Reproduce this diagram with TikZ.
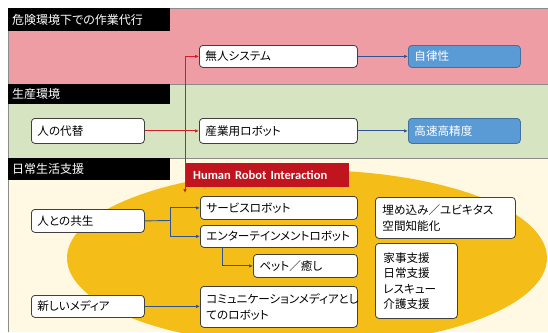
\documentclass[tikz,border=0pt]{standalone}
\usepackage{fontspec}
\setmainfont{Noto Sans CJK JP}[RawFeature=+palt]
\newfontfamily\hrifont{Carlito}
\usetikzlibrary{arrows.meta}
\definecolor{pinkband}{HTML}{EF9DA5}
\definecolor{greenband}{HTML}{D7E4C2}
\definecolor{creamband}{HTML}{FFF9E3}
\definecolor{ellcol}{HTML}{F5BD18}
\definecolor{boxblue}{HTML}{5B9BD5}
\definecolor{boxborder}{HTML}{41719C}
\definecolor{hrired}{HTML}{C0141E}
\definecolor{arrred}{HTML}{D01E28}
\definecolor{arrblue}{HTML}{2F5496}
\begin{document}
\begin{tikzpicture}[x=1pt,y=-1pt,
  font=\fontsize{11.6}{15.5}\selectfont,
  box/.style={draw=black!75, fill=white, rounded corners=3.5pt, line width=0.8pt,
    anchor=north west, inner xsep=6pt, inner ysep=0pt, align=left},
  bluebox/.style={box, fill=boxblue, draw=boxborder, text=white},
  hdr/.style={fill=black, text=white, anchor=north west, text width=154pt,
    inner xsep=4pt, inner ysep=0pt, align=left, font=\fontsize{12}{14}\selectfont},
  band/.style={draw=black!45, line width=0.6pt},
  redarr/.style={draw=arrred, line width=1pt, -{Latex[length=4pt,width=3.5pt]}},
  redline/.style={draw=arrred, line width=1pt},
  bluearr/.style={draw=arrblue, line width=0.9pt, -{Latex[length=4pt,width=3.5pt]}},
  blueline/.style={draw=arrblue, line width=0.9pt}
]
\path[use as bounding box] (0,0) rectangle (548,332);
% bands
\fill[pinkband] (8,8) rectangle (548,84);
\fill[greenband] (8,84) rectangle (548,158);
\fill[creamband] (8,158) rectangle (548,332);
\draw[band] (548,8) -- (8,8) -- (8,332);
\draw[band] (8,84) -- (548,84);
\draw[band] (8,158) -- (548,158);
% ellipse
\begin{scope}
\clip (8,158) rectangle (548,332);
\fill[ellcol] (307,258) ellipse [x radius=240pt, y radius=88pt];
\end{scope}
% headers
\node[hdr, minimum height=23pt] (h1) at (8,8) {危険環境下での作業代行};
\node[hdr, minimum height=20pt] (h2) at (8,84) {生産環境};
\node[hdr, minimum height=22pt] (h3) at (8,158) {日常生活支援};
% top rows
\node[box, text width=146pt, minimum height=22pt] (musys) at (199,45) {無人システム};
\node[bluebox, text width=100pt, minimum height=22pt] (jiritsu) at (408,45) {自律性};
\node[box, text width=101pt, minimum height=25pt] (daitai) at (31,118) {人の代替};
\node[box, text width=146pt, minimum height=25pt] (sangyo) at (199,118) {産業用ロボット};
\node[bluebox, text width=100pt, minimum height=25pt] (kosoku) at (408,118) {高速高精度};
% HRI label
\node[fill=hrired, text=white, anchor=north west, minimum width=164pt, minimum height=24pt,
  inner xsep=8pt, text width=148pt, align=left, font=\hrifont\bfseries\fontsize{12.5}{14}\selectfont]
  (hri) at (185,163) {Human Robot Interaction};
% lower boxes
\node[box, text width=101pt, minimum height=23pt] (kyosei) at (31,209) {人との共生};
\node[box, text width=101pt, minimum height=22pt] (media) at (31,295) {新しいメディア};
\node[box, text width=145pt, minimum height=23pt] (service) at (200,196) {サービスロボット};
\node[box, text width=145pt, minimum height=22pt] (enter) at (200,225) {エンターテインメントロボット};
\node[box, text width=92pt, minimum height=23pt] (pet) at (253,254) {ペット／癒し};
\node[box, text width=145pt, minimum height=41pt] (comm) at (200,286) {コミュニケーションメディアとし\\てのロボット};
\node[box, text width=126pt, minimum height=41pt, inner xsep=7pt] (ubiq) at (375,197) {埋め込み／ユビキタス\\空間知能化};
\node[box, text width=66pt, minimum height=75pt, inner xsep=8pt] (kaji) at (375,243) {家事支援\\日常支援\\レスキュー\\介護支援};
% blue connectors top
\draw[bluearr] (musys.east) -- (jiritsu.west);
\draw[bluearr] (sangyo.east) -- (kosoku.west);
% red connectors
\coordinate (rj) at (185,130.5);
\coordinate (rdown) at (185,193);
\draw[redarr] (daitai.east) -- (sangyo.west);
\draw[redarr] (rj) |- (musys.west);
\draw[redarr] (rj) -- (rdown);
% blue connectors lower
\coordinate (bj) at (170,220.5);
\draw[blueline] (kyosei.east) -- (bj);
\draw[bluearr] (bj) |- (service.west);
\draw[bluearr] (bj) |- (enter.west);
\draw[bluearr] ([xshift=22pt]enter.south west) |- (pet.west);
\draw[bluearr] (media.east) -- (media.east -| comm.west);
\end{tikzpicture}
\end{document}
